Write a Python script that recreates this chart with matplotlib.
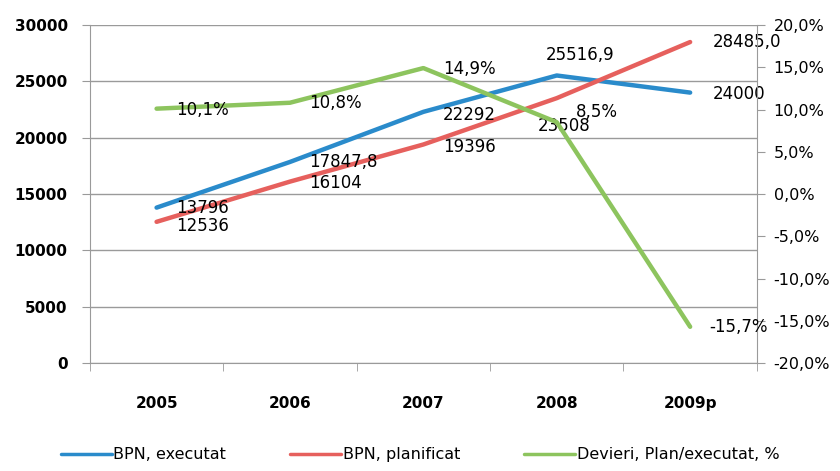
import matplotlib
matplotlib.use("Agg")
import matplotlib.pyplot as plt
from matplotlib.ticker import FuncFormatter, FixedLocator

# === Dati ===
years = ["2005", "2006", "2007", "2008", "2009p"]
bpn_executat = [13796, 17847.8, 22292, 25516.9, 24000]
bpn_planificat = [12536, 16104, 19396, 23508, 28485.0]
devieri = [10.1, 10.8, 14.9, 8.5, -15.7]

lbl_exec = ["13796", "17847,8", "22292", "25516,9", "24000"]
lbl_plan = ["12536", "16104", "19396", "23508", "28485,0"]
lbl_dev = ["10,1%", "10,8%", "14,9%", "8,5%", "-15,7%"]

BLUE = "#2A8BCB"
RED = "#E6605D"
GREEN = "#8DC45E"
GRID = "#9A9A9A"

tick_font = ["Liberation Sans Narrow", "DejaVu Sans"]
label_font = ["DejaVu Sans"]

fig = plt.figure(figsize=(8.4, 4.71), dpi=100)
ax = fig.add_axes([0.107, 0.229, 0.794, 0.718])
ax2 = ax.twinx()

x = list(range(len(years)))

l1, = ax.plot(x, bpn_executat, color=BLUE, lw=3.2, solid_capstyle="round", zorder=3)
l2, = ax.plot(x, bpn_planificat, color=RED, lw=3.2, solid_capstyle="round", zorder=3)
l3, = ax2.plot(x, devieri, color=GREEN, lw=3.2, solid_capstyle="round", zorder=3)

# --- assi ---
ax.set_xlim(-0.5, 4.5)
ax.set_ylim(0, 30000)
ax2.set_ylim(-20, 20)
ax.set_yticks(range(0, 30001, 5000))
ax2.set_yticks(range(-20, 21, 5))
ax2.yaxis.set_major_formatter(FuncFormatter(lambda v, p: f"{v:.1f}%".replace(".", ",")))

ax.set_xticks(x)
ax.set_xticklabels(years)
ax.xaxis.set_minor_locator(FixedLocator([i - 0.5 for i in range(len(years) + 1)]))
ax.tick_params(axis="x", which="major", length=0, pad=24)
ax.tick_params(axis="x", which="minor", length=6, color=GRID)
ax.tick_params(axis="y", length=6, color=GRID, pad=10)
ax2.tick_params(axis="y", length=6, color=GRID, pad=6)

for lab in ax.get_xticklabels() + ax.get_yticklabels():
    lab.set_family(tick_font)
    lab.set_fontweight("bold")
    lab.set_fontsize(11)
for lab in ax2.get_yticklabels():
    lab.set_family(label_font)
    lab.set_fontsize(11.5)

ax.grid(axis="y", color=GRID, lw=1)
ax.set_axisbelow(True)
for a in (ax, ax2):
    a.spines["top"].set_visible(False)
    a.spines["right"].set_visible(False)
    a.spines["left"].set_color(GRID)
    a.spines["bottom"].set_color(GRID)
ax2.spines["right"].set_visible(True)
ax2.spines["right"].set_color(GRID)
ax2.spines["left"].set_visible(False)
ax2.spines["bottom"].set_visible(False)

# --- etichette dati ---
def label(a, xi, yi, txt, dx, dy):
    a.annotate(txt, (xi, yi), xytext=(dx, dy), textcoords="offset points",
               ha="left", va="center", fontsize=12, family=label_font, zorder=5)

offs_exec = [(14, 0), (14, 0), (14, -2), (-8, 15), (16, -1)]
offs_plan = [(14, -3), (14, -1), (14, -2), (-14, -20), (16, 0)]
offs_dev = [(14, -1), (14, 0), (14, -1), (14, 7), (14, 0)]
for i in x:
    label(ax, i, bpn_executat[i], lbl_exec[i], *offs_exec[i])
    label(ax, i, bpn_planificat[i], lbl_plan[i], *offs_plan[i])
    label(ax2, i, devieri[i], lbl_dev[i], *offs_dev[i])

leg = fig.legend([l1, l2, l3], ["BPN, executat", "BPN, planificat", "Devieri, Plan/executat, %"],
                 loc="lower center", bbox_to_anchor=(0.5, -0.012), ncol=3, frameon=False,
                 handlelength=3.2, handletextpad=0.1, columnspacing=4.0,
                 prop={"family": tick_font, "size": 11.5})
for h in leg.legend_handles:
    h.set_linewidth(2.5)

fig.savefig("out.png", dpi=100)
